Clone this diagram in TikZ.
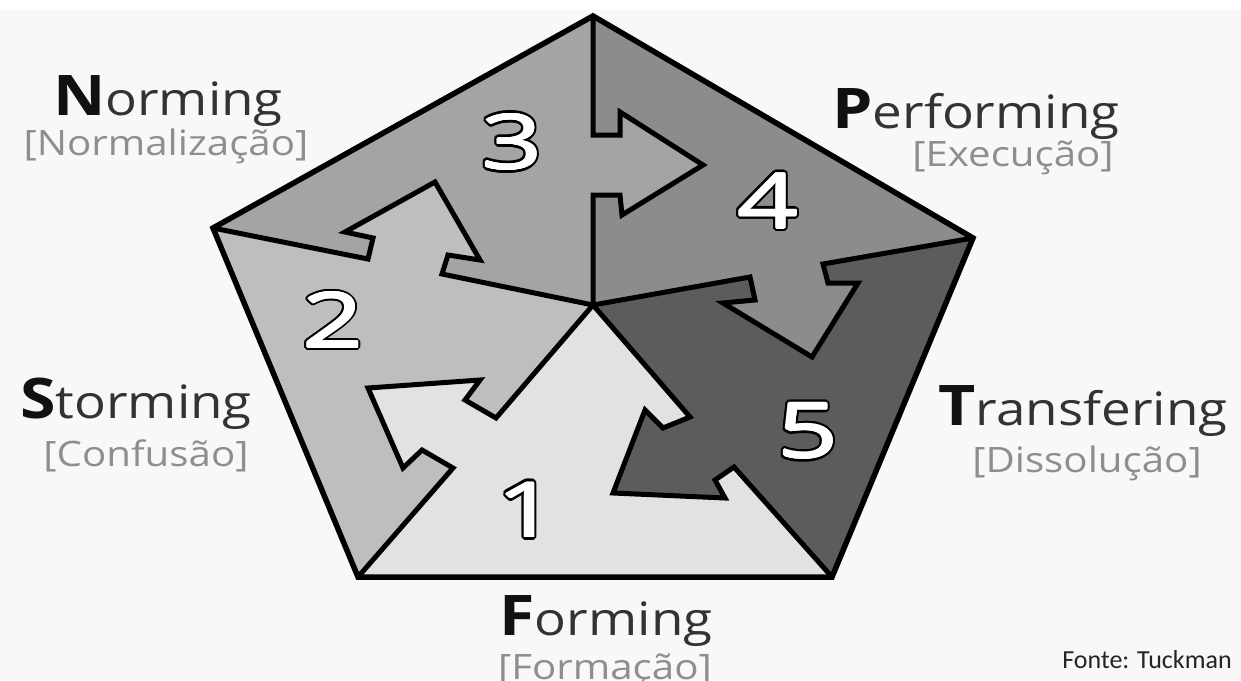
\documentclass[tikz,border=0pt]{standalone}
\usepackage{fontspec}
\setmainfont{Open Sans}
\newfontfamily\labfont{Open Sans}[FakeStretch=1.15]
\newfontfamily\digfont{Open Sans}[FakeStretch=1.4]
\newfontfamily\srcfont{Carlito}
\definecolor{bg}{HTML}{F8F8F8}
\definecolor{cA}{HTML}{E2E2E2}
\definecolor{cB}{HTML}{BEBEBE}
\definecolor{cC}{HTML}{A4A4A4}
\definecolor{cD}{HTML}{8C8C8C}
\definecolor{cE}{HTML}{5C5C5C}
\definecolor{capc}{HTML}{111111}
\definecolor{wordc}{HTML}{333333}
\definecolor{subc}{HTML}{8E8E8E}
\newcommand\stagelabel[2]{{\labfont\fontsize{56}{60}\selectfont\bfseries\color{capc}#1}{\labfont\fontsize{46}{50}\selectfont\color{wordc}#2}}
\newcommand\stagesub[1]{{\labfont\fontsize{35}{40}\selectfont\color{subc}[#1]}}
\newcommand\stagenum[3]{%
  \foreach \ang [count=\k] in {0,22.5,...,337.5}
    \node[digitback, shift={(\ang:3.4)}] (#1o\k) at (#2) {#3};
  \foreach \ang [count=\k] in {0,45,...,315}
    \node[digitfront, shift={(\ang:0.8)}] (#1w\k) at (#2) {#3};
  \node[digitfront] (#1) at (#2) {#3};
}
\tikzset{
  edge/.style={draw=black, line width=5pt, line join=miter, line cap=round},
  rim/.style={draw=black, line width=5.5pt, line join=miter},
  lab/.style={anchor=base, inner sep=0pt},
  digitback/.style={inner sep=0pt, text=black, font=\digfont\fontsize{76}{80}\selectfont},
  digitfront/.style={inner sep=0pt, text=white, font=\digfont\fontsize{76}{80}\selectfont}
}
\begin{document}
\begin{tikzpicture}[x=1pt,y=-1pt]
\useasboundingbox (0,0) rectangle (1241,680);
\fill[bg] (0,0) rectangle (1241,680);
\fill[white] (0,0) rectangle (1241,10);
% pentagon vertices and centre
\coordinate (C) at (593,305);
\coordinate (T) at (593,16);
\coordinate (UR) at (973,238);
\coordinate (LR) at (832,577);
\coordinate (LL) at (358,577);
\coordinate (UL) at (213,228);
% arrow 1 -> 2
\coordinate (a1) at (496,418); \coordinate (a2) at (465,400); \coordinate (a3) at (480,380);
\coordinate (a4) at (368,388); \coordinate (a5) at (403,468); \coordinate (a6) at (422,450);
\coordinate (a7) at (453,468);
% arrow 2 -> 3
\coordinate (b1) at (368,259); \coordinate (b2) at (373,238); \coordinate (b3) at (345,232);
\coordinate (b4) at (435,182); \coordinate (b5) at (480,260); \coordinate (b6) at (448,255);
\coordinate (b7) at (442,274);
% arrow 3 -> 4
\coordinate (c1) at (593,135); \coordinate (c2) at (620,135); \coordinate (c3) at (620,112);
\coordinate (c4) at (703,165); \coordinate (c5) at (622,215); \coordinate (c6) at (620,195);
\coordinate (c7) at (593,195);
% arrow 4 -> 5
\coordinate (d1) at (750,277); \coordinate (d2) at (755,300); \coordinate (d3) at (723,303);
\coordinate (d4) at (812,357); \coordinate (d5) at (858,283); \coordinate (d6) at (828,283);
\coordinate (d7) at (823,264);
% arrow 5 -> 1
\coordinate (e1) at (690,417); \coordinate (e2) at (663,428); \coordinate (e3) at (645,410);
\coordinate (e4) at (613,493); \coordinate (e5) at (725,498); \coordinate (e6) at (715,480);
\coordinate (e7) at (734,467);
% regions (each with its own arrow and the cut of the previous one)
\fill[cA] (C) -- (a1) -- (a2) -- (a3) -- (a4) -- (a5) -- (a6) -- (a7) -- (LL) -- (LR)
  -- (e7) -- (e6) -- (e5) -- (e4) -- (e3) -- (e2) -- (e1) -- cycle;
\fill[cB] (C) -- (b7) -- (b6) -- (b5) -- (b4) -- (b3) -- (b2) -- (b1) -- (UL) -- (LL)
  -- (a7) -- (a6) -- (a5) -- (a4) -- (a3) -- (a2) -- (a1) -- cycle;
\fill[cC] (C) -- (c7) -- (c6) -- (c5) -- (c4) -- (c3) -- (c2) -- (c1) -- (T) -- (UL)
  -- (b1) -- (b2) -- (b3) -- (b4) -- (b5) -- (b6) -- (b7) -- cycle;
\fill[cD] (C) -- (d1) -- (d2) -- (d3) -- (d4) -- (d5) -- (d6) -- (d7) -- (UR) -- (T)
  -- (c1) -- (c2) -- (c3) -- (c4) -- (c5) -- (c6) -- (c7) -- cycle;
\fill[cE] (C) -- (e1) -- (e2) -- (e3) -- (e4) -- (e5) -- (e6) -- (e7) -- (LR) -- (UR)
  -- (d7) -- (d6) -- (d5) -- (d4) -- (d3) -- (d2) -- (d1) -- cycle;
% boundaries
\draw[edge] (C) -- (a1) -- (a2) -- (a3) -- (a4) -- (a5) -- (a6) -- (a7) -- (LL);
\draw[edge] (UL) -- (b1) -- (b2) -- (b3) -- (b4) -- (b5) -- (b6) -- (b7) -- (C);
\draw[edge] (T) -- (c1) -- (c2) -- (c3) -- (c4) -- (c5) -- (c6) -- (c7) -- (C);
\draw[edge] (C) -- (d1) -- (d2) -- (d3) -- (d4) -- (d5) -- (d6) -- (d7) -- (UR);
\draw[edge] (C) -- (e1) -- (e2) -- (e3) -- (e4) -- (e5) -- (e6) -- (e7) -- (LR);
\draw[rim] (T) -- (UR) -- (LR) -- (LL) -- (UL) -- cycle;
% numbers (white with black outline)
\stagenum{n1}{527,510}{1}
\stagenum{n2}{333,320}{2}
\stagenum{n3}{512,142}{3}
\stagenum{n4}{768,201}{4}
\stagenum{n5}{808,431}{5}
% labels
\node[lab] (norming) at (168,115) {\stagelabel{N}{orming}};
\node[lab] (normsub) at (166,155) {\stagesub{Normalização}};
\node[lab] (storming) at (136,418) {\stagelabel{S}{torming}};
\node[lab] (stormsub) at (146,466) {\stagesub{Confusão}};
\node[lab] (performing) at (976,128) {\stagelabel{P}{erforming}};
\node[lab] (perfsub) at (1013,166) {\stagesub{Execução}};
\node[lab] (transfering) at (1083,425) {\stagelabel{T}{ransfering}};
\node[lab] (transsub) at (1087,472) {\stagesub{Dissolução}};
\node[lab] (forming) at (606,635) {\stagelabel{F}{orming}};
\node[lab] (formsub) at (605,679) {\stagesub{Formação}};
\node[lab] (fonte) at (1147,668) {\srcfont\fontsize{26}{30}\selectfont\color{wordc!70!black}Fonte: Tuckman};
\end{tikzpicture}
\end{document}
